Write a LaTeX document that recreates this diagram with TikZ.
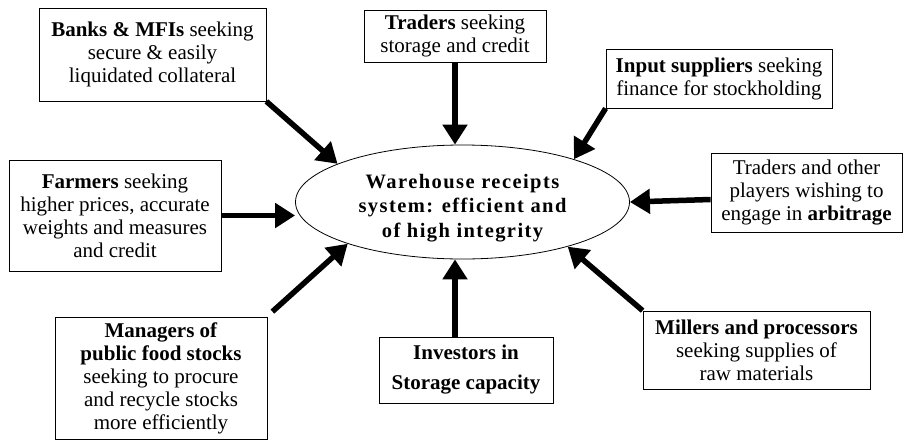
\documentclass[tikz,border=0pt]{standalone}
\usepackage{fontspec}
\setmainfont{Liberation Serif}
\newfontface\hubfont{Liberation Serif Bold}[LetterSpace=7]
\usetikzlibrary{arrows.meta, positioning, shapes.geometric}

\begin{document}
\begin{tikzpicture}[x=1pt, y=-1pt,
    box/.style={draw, rectangle, line width=0.8pt, align=center, inner sep=1pt,
      font=\fontsize{21}{23}\selectfont},
    hub/.style={draw, ellipse, line width=0.8pt, align=center, inner sep=0pt,
      minimum width=334pt, minimum height=114pt,
      font=\fontsize{20.5}{24.5}\hubfont},
    feed/.style={line width=5.5pt, -{Triangle[length=20pt, width=24pt]}}]

        \useasboundingbox (0,0) rectangle (903,440);

        % Nodes
        \node[hub] (sys) at (462.5,202) {\rule{0pt}{26pt}Warehouse receipts\\ system: efficient and\\ of high integrity};
        \node[box, minimum width=227pt, minimum height=93pt] (banks) at (152.5,54.5)
            {\textbf{Banks \& MFIs} seeking\\ secure \& easily\\ liquidated collateral};
        \node[box, minimum width=182pt, minimum height=52pt] (traders) at (455,36)
            {\textbf{Traders} seeking\\ storage and credit};
        \node[box, minimum width=226pt, minimum height=59pt] (input) at (719,78.5)
            {\textbf{Input suppliers} seeking\\ finance for stockholding};
        \node[box, minimum width=212pt, minimum height=111pt] (farmers) at (115,215.5)
            {\textbf{Farmers} seeking\\ higher prices, accurate\\ weights and measures\\ and credit};
        \node[box, minimum width=191pt, minimum height=79pt] (arb) at (806.5,192.5)
            {Traders and other\\ players wishing to\\ engage in \textbf{arbitrage}};
        \node[box, minimum width=212pt, minimum height=122pt] (managers) at (161,378)
            {\textbf{Managers of}\\ \textbf{public food stocks}\\ seeking to procure\\ and recycle stocks\\ more efficiently};
        \node[box, minimum width=174pt, minimum height=66pt] (investors) at (466,370)
            {\textbf{Investors in}\\[7pt] \textbf{Storage capacity}};
        \node[box, minimum width=227pt, minimum height=78pt] (millers) at (756.5,350)
            {\textbf{Millers and processors}\\ seeking supplies of\\ raw materials};

        % Arrows
        \draw[feed] (banks.south east) -- (sys.163);
        \draw[feed] (traders.south) -- (traders.south |- sys.north);
        \draw[feed] (input.south west) -- (sys.21);
        \draw[feed] (farmers.east) -- (farmers.east -| sys.west);
        \draw[feed] ([yshift=-7pt]arb.west) -- (sys.east);
        \draw[feed] ([xshift=5pt, yshift=5pt]managers.north east) -- (sys.200);
        \draw[feed] (traders.south |- investors.north) -- (traders.south |- sys.south);
        \draw[feed] (millers.north west) -- (sys.337);

      \end{tikzpicture}
\end{document}
